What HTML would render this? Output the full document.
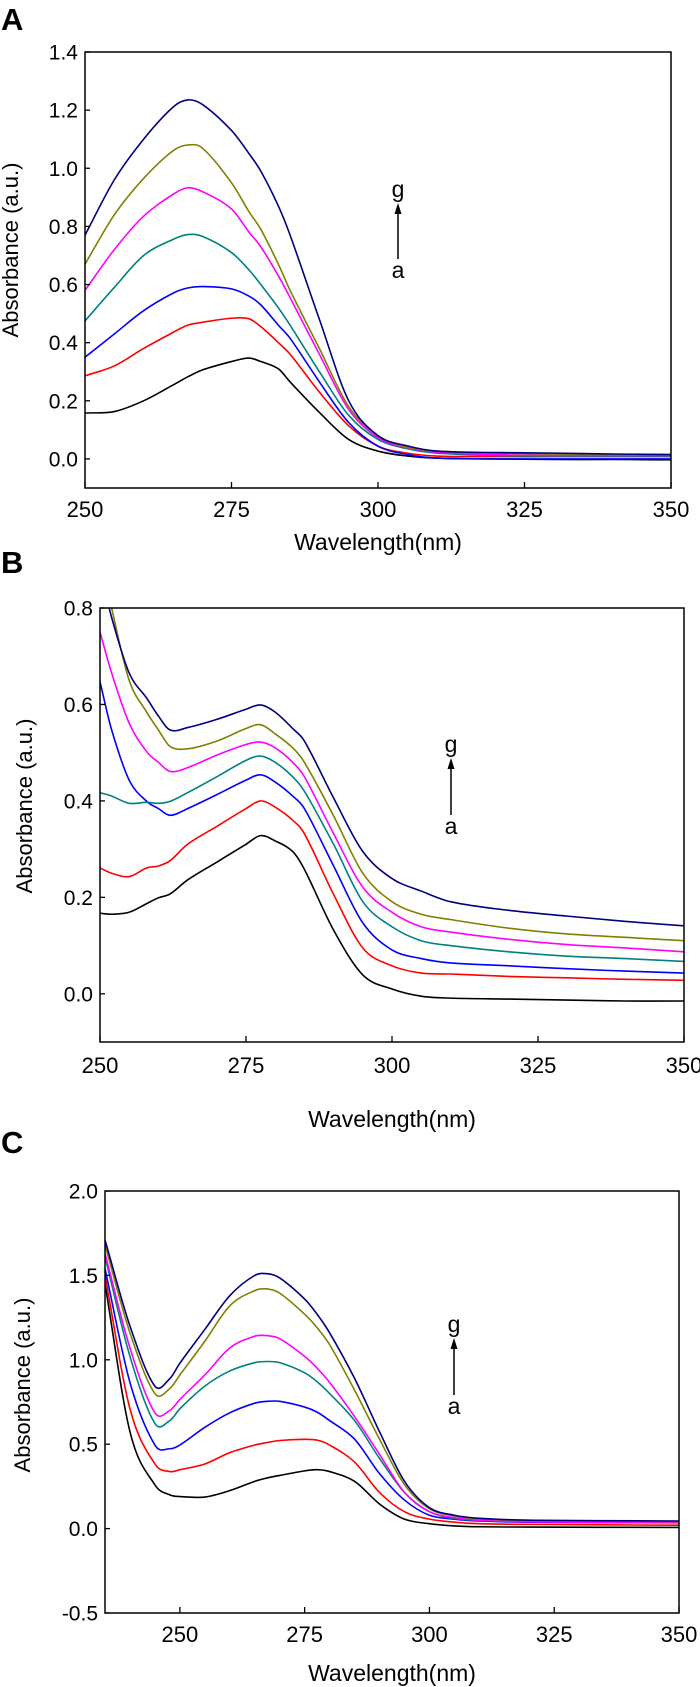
<!DOCTYPE html>
<html><head><meta charset="utf-8">
<style>
html,body{margin:0;padding:0;background:#fff;}
svg{display:block;font-family:"Liberation Sans",Arial,sans-serif;}
</style></head>
<body>
<svg id="fig" width="700" height="1687" viewBox="0 0 700 1687" xmlns="http://www.w3.org/2000/svg"></svg>
<script>
const seriesNames = ['a','b','c','d','e','f','g'];
const seriesColors = ['#000000','#ff0000','#0000ff','#008080','#ff00ff','#808000','#000080'];

// Panel A
const wlA = [250,255,260,265,267.5,270,275,278,280,283,285,290,295,300,305,310,320,330,340,350];
const aA_a = [0.158,0.163,0.20,0.254,0.282,0.306,0.335,0.347,0.335,0.31,0.265,0.16,0.067,0.027,0.01,0.003,0.0,-0.002,-0.002,-0.003];
const aA_b = [0.286,0.32,0.38,0.435,0.46,0.47,0.484,0.482,0.455,0.40,0.36,0.23,0.114,0.044,0.02,0.01,0.008,0.008,0.008,0.008];
const aA_c = [0.35,0.43,0.51,0.57,0.588,0.593,0.585,0.56,0.53,0.46,0.415,0.265,0.125,0.044,0.015,0.003,0.0,0.0,0.0,0.0];
const aA_d = [0.475,0.59,0.70,0.755,0.772,0.766,0.71,0.65,0.60,0.52,0.46,0.30,0.15,0.067,0.035,0.02,0.012,0.01,0.01,0.01];
const aA_e = [0.58,0.72,0.835,0.91,0.933,0.92,0.86,0.78,0.73,0.63,0.555,0.36,0.17,0.073,0.038,0.023,0.015,0.012,0.012,0.012];
const aA_f = [0.67,0.84,0.965,1.06,1.08,1.07,0.95,0.85,0.79,0.67,0.58,0.38,0.18,0.08,0.04,0.027,0.02,0.017,0.015,0.015];
const aA_g = [0.77,0.96,1.10,1.21,1.235,1.22,1.13,1.05,0.99,0.87,0.77,0.48,0.20,0.08,0.045,0.027,0.022,0.02,0.017,0.015];

// Panel B
const wlB = [250,252,255,258,260,262,265,270,275,277.5,280,283,285,290,295,300,305,310,320,330,340,350];
const aB_a = [0.167,0.165,0.169,0.187,0.199,0.207,0.236,0.273,0.31,0.328,0.317,0.295,0.258,0.132,0.039,0.01,-0.005,-0.009,-0.011,-0.013,-0.015,-0.015];
const aB_b = [0.261,0.25,0.243,0.261,0.265,0.276,0.31,0.347,0.384,0.40,0.387,0.36,0.332,0.206,0.095,0.058,0.043,0.041,0.036,0.033,0.030,0.028];
const aB_c = [0.647,0.547,0.443,0.399,0.384,0.37,0.384,0.413,0.443,0.454,0.439,0.41,0.384,0.265,0.147,0.091,0.073,0.064,0.058,0.052,0.047,0.043];
const aB_d = [0.417,0.41,0.395,0.397,0.395,0.399,0.417,0.45,0.484,0.493,0.48,0.45,0.42,0.31,0.191,0.139,0.11,0.10,0.087,0.078,0.073,0.067];
const aB_e = [0.75,0.665,0.561,0.502,0.48,0.461,0.469,0.495,0.517,0.522,0.51,0.48,0.45,0.332,0.221,0.169,0.139,0.128,0.113,0.102,0.095,0.087];
const aB_f = [0.92,0.80,0.65,0.584,0.547,0.513,0.508,0.524,0.55,0.558,0.539,0.51,0.48,0.369,0.25,0.191,0.165,0.154,0.136,0.124,0.117,0.11];
const aB_g = [0.88,0.78,0.665,0.613,0.576,0.547,0.552,0.569,0.59,0.599,0.584,0.55,0.524,0.406,0.295,0.239,0.213,0.191,0.173,0.161,0.15,0.141];

// Panel C
const wlC = [235,240,245,248,250,255,260,265,267.5,270,275,277.5,280,285,290,295,300,305,310,320,350];
const aC_a = [1.45,0.574,0.259,0.20,0.19,0.187,0.225,0.28,0.30,0.315,0.342,0.349,0.338,0.28,0.146,0.056,0.029,0.016,0.011,0.009,0.007];
const aC_b = [1.50,0.71,0.383,0.338,0.349,0.383,0.45,0.495,0.51,0.522,0.529,0.524,0.495,0.394,0.214,0.10,0.056,0.038,0.029,0.025,0.02];
const aC_c = [1.54,0.866,0.495,0.473,0.495,0.60,0.686,0.743,0.754,0.754,0.72,0.69,0.64,0.53,0.326,0.169,0.079,0.056,0.045,0.038,0.034];
const aC_d = [1.61,1.02,0.623,0.64,0.71,0.844,0.934,0.983,0.99,0.983,0.923,0.87,0.80,0.64,0.416,0.214,0.10,0.06,0.05,0.045,0.04];
const aC_e = [1.63,1.07,0.686,0.70,0.765,0.91,1.07,1.14,1.143,1.125,1.02,0.95,0.866,0.664,0.44,0.214,0.10,0.065,0.05,0.04,0.035];
const aC_f = [1.68,1.16,0.80,0.83,0.91,1.11,1.32,1.41,1.42,1.395,1.27,1.19,1.09,0.82,0.53,0.26,0.117,0.075,0.058,0.048,0.042];
const aC_g = [1.71,1.20,0.844,0.889,0.98,1.18,1.38,1.50,1.51,1.485,1.36,1.27,1.16,0.89,0.574,0.28,0.124,0.079,0.061,0.05,0.045];

const yTicksA = [0,0.2,0.4,0.6,0.8,1.0,1.2,1.4];
const yTicksB = [0,0.2,0.4,0.6,0.8];
const yTicksC = [-0.5,0,0.5,1.0,1.5,2.0];
const xTicksAB = [250,275,300,325,350];
const xTicksC = [250,275,300,325,350];

const NS = 'http://www.w3.org/2000/svg';
const svg = document.getElementById('fig');
function mk(tag, attrs, parent){
  const e = document.createElementNS(NS, tag);
  for (const k in attrs) e.setAttribute(k, attrs[k]);
  (parent||svg).appendChild(e);
  return e;
}
// cubic Hermite through pixel points with non-uniform spacing
function spline(pts){
  const n = pts.length;
  const m = [];
  for (let i=0;i<n;i++){
    const a = pts[Math.max(0,i-1)], b = pts[Math.min(n-1,i+1)];
    m.push((b[1]-a[1])/(b[0]-a[0]));
  }
  let d = 'M' + pts[0][0].toFixed(2) + ',' + pts[0][1].toFixed(2);
  for (let i=0;i<n-1;i++){
    const p1 = pts[i], p2 = pts[i+1], h = (p2[0]-p1[0])/3;
    d += ' C'+(p1[0]+h).toFixed(2)+','+(p1[1]+m[i]*h).toFixed(2)+' '+(p2[0]-h).toFixed(2)+','+(p2[1]-m[i+1]*h).toFixed(2)+' '+p2[0].toFixed(2)+','+p2[1].toFixed(2);
  }
  return d;
}

function panel(cfg){
  const g = mk('g', {});
  
  
  const X = v => cfg.x0 + (v - cfg.xmin)/(cfg.xmax - cfg.xmin)*(cfg.x1 - cfg.x0);
  const Y = v => cfg.y1 - (v - cfg.ymin)/(cfg.ymax - cfg.ymin)*(cfg.y1 - cfg.y0);
  const cp = mk('clipPath', {id:'clip'+cfg.id}, g);
  mk('rect', {x:cfg.x0, y:cfg.y0, width:cfg.x1-cfg.x0, height:cfg.y1-cfg.y0}, cp);
  const sg = mk('g', {'clip-path':'url(#clip'+cfg.id+')'}, g);
  for (let s=0;s<cfg.series.length;s++){
    const pts = cfg.wl.map((w,i)=>[X(w), Y(cfg.series[s][i])]);
    const p = mk('path', {d:spline(pts), fill:'none', stroke:seriesColors[s], 'stroke-width':1.6, 'stroke-linejoin':'round'}, sg);
    
    
  }
  const box = mk('rect', {x:cfg.x0, y:cfg.y0, width:cfg.x1-cfg.x0, height:cfg.y1-cfg.y0, fill:'none', stroke:'#000', 'stroke-width':1.5}, g);
  
  
  cfg.yTicks.forEach(v=>{
    const y = Y(v);
    mk('line', {x1:cfg.x0, x2:cfg.x0+5, y1:y, y2:y, stroke:'#000', 'stroke-width':1.3}, g);
    const t = mk('text', {x:cfg.x0-7, y:y+7.5, 'text-anchor':'end', 'font-size':21}, g);
    t.textContent = cfg.yFmt(v);
    
    
  });
  cfg.xTicks.forEach(v=>{
    const x = X(v);
    mk('line', {x1:x, x2:x, y1:cfg.y1, y2:cfg.y1-6, stroke:'#000', 'stroke-width':1.3}, g);
    const t = mk('text', {x:x, y:cfg.xLabY, 'text-anchor':'middle', 'font-size':22}, g);
    t.textContent = String(v);
    
    
  });
  const xt = mk('text', {x:(cfg.x0+cfg.x1)/2, y:cfg.xTitleY, 'text-anchor':'middle', 'font-size':23}, g);
  xt.textContent = 'Wavelength(nm)';
  
  
  const yt = mk('text', {x:0, y:0, 'text-anchor':'middle', 'font-size':22, transform:'translate('+cfg.yTitleX+','+cfg.yTitleY+') rotate(-90)'}, g);
  yt.textContent = 'Absorbance (a.u.)';
  
  
  const pl = mk('text', {x:1, y:cfg.labelY, 'font-size':31, 'font-weight':'bold'}, g);
  pl.textContent = cfg.id;
  
  
  const gt = mk('text', {x:cfg.annX, y:cfg.gY+7, 'text-anchor':'middle', 'font-size':23}, g);
  gt.textContent = 'g';
  
  
  const at = mk('text', {x:cfg.annX, y:cfg.aY+8, 'text-anchor':'middle', 'font-size':23}, g);
  at.textContent = 'a';
  
  
  const ar = mk('line', {x1:cfg.annX, x2:cfg.annX, y1:cfg.aY-11, y2:cfg.gY+22, stroke:'#000', 'stroke-width':1.5}, g);
  
  
  mk('polygon', {points:(cfg.annX-3.5)+','+(cfg.gY+24)+' '+(cfg.annX+3.5)+','+(cfg.gY+24)+' '+cfg.annX+','+(cfg.gY+13), fill:'#000'}, g);
}

const f1 = v => v.toFixed(1);
panel({id:'A', x0:85, x1:671, y0:52, y1:488, xmin:250, xmax:350, ymin:-0.1, ymax:1.4,
  wl:wlA, series:[aA_a,aA_b,aA_c,aA_d,aA_e,aA_f,aA_g], yTicks:yTicksA, xTicks:xTicksAB, yFmt:f1,
  xLabY:517, xTitleY:550, yTitleX:18, yTitleY:250, labelY:30, annX:398, gY:190, aY:270});
panel({id:'B', x0:100, x1:684, y0:608, y1:1042, xmin:250, xmax:350, ymin:-0.1, ymax:0.8,
  wl:wlB, series:[aB_a,aB_b,aB_c,aB_d,aB_e,aB_f,aB_g], yTicks:yTicksB, xTicks:xTicksAB, yFmt:f1,
  xLabY:1073, xTitleY:1127, yTitleX:32, yTitleY:806, labelY:573, annX:451, gY:745, aY:826});
panel({id:'C', x0:105, x1:679, y0:1191, y1:1613, xmin:235, xmax:350, ymin:-0.5, ymax:2.0,
  wl:wlC, series:[aC_a,aC_b,aC_c,aC_d,aC_e,aC_f,aC_g], yTicks:yTicksC, xTicks:xTicksC, yFmt:f1,
  xLabY:1642, xTitleY:1681, yTitleX:30, yTitleY:1385, labelY:1153, annX:454, gY:1325, aY:1406});
</script>
</body></html>
